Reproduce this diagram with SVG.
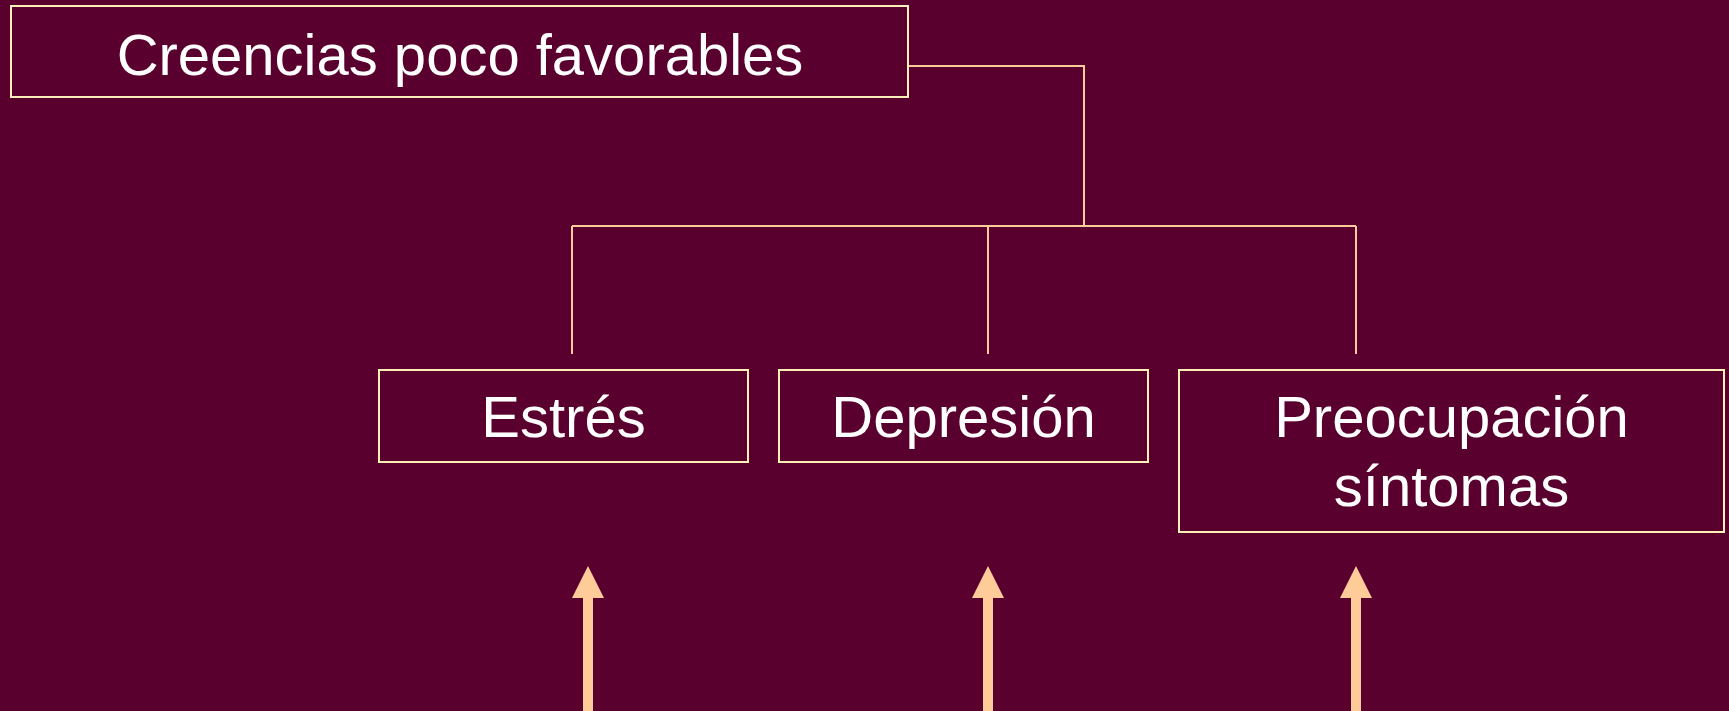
<svg xmlns="http://www.w3.org/2000/svg" width="1729" height="711" viewBox="0 0 1729 711">
<style>
.bg{fill:#5A002E}
.box{fill:#5A002E;stroke:#FFEFB8;stroke-width:2}
.lbl{font-family:"Liberation Sans",Arial,sans-serif;font-size:58px;fill:#FFFFFF;text-anchor:middle}
.conn{fill:none;stroke:#FFCC99;stroke-width:2}
.arrow{fill:#FFCC99}
</style>
<rect class="bg" x="0" y="0" width="1729" height="711"/>
<g id="connectors">
<polyline class="conn" points="908,66 1084,66 1084,226"/>
<line class="conn" x1="572" y1="226" x2="1356" y2="226"/>
<line class="conn" x1="572" y1="226" x2="572" y2="354"/>
<line class="conn" x1="988" y1="226" x2="988" y2="354"/>
<line class="conn" x1="1356" y1="226" x2="1356" y2="354"/>
<polygon class="arrow" points="588,566 604,598 593,598 593,711 583,711 583,598 572,598"/>
<polygon class="arrow" points="988,566 1004,598 993,598 993,711 983,711 983,598 972,598"/>
<polygon class="arrow" points="1356,566 1372,598 1361,598 1361,711 1351,711 1351,598 1340,598"/>
</g>
<g id="node-creencias">
<rect class="box" x="11" y="6" width="897" height="91"/>
<text class="lbl" x="460" y="75">Creencias poco favorables</text>
</g>
<g id="node-estres">
<rect class="box" x="379" y="370" width="369" height="92"/>
<text class="lbl" x="563.5" y="437">Estrés</text>
</g>
<g id="node-depresion">
<rect class="box" x="779" y="370" width="369" height="92"/>
<text class="lbl" x="963.5" y="437">Depresión</text>
</g>
<g id="node-preocupacion">
<rect class="box" x="1179" y="370" width="545" height="162"/>
<text class="lbl" x="1451.5" y="437">Preocupación</text>
<text class="lbl" x="1451.5" y="506">síntomas</text>
</g>
</svg>
